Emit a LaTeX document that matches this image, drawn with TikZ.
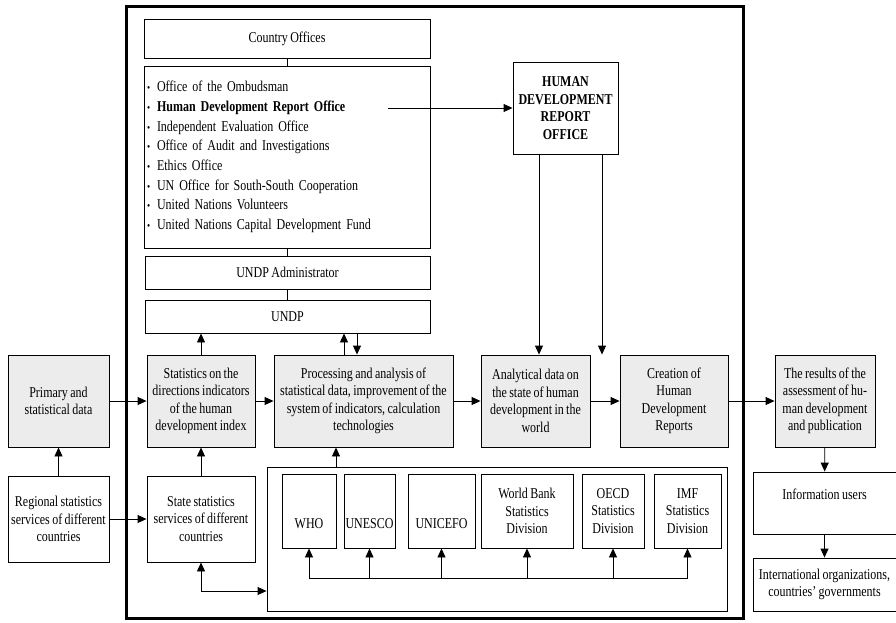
\documentclass[tikz,border=0pt]{standalone}
\usepackage{fontspec}
\setmainfont{Liberation Serif}[FakeStretch=0.8, WordSpace=0.8]
\usetikzlibrary{arrows.meta}

\newcommand{\itm}{\makebox[10pt][l]{\fontsize{11}{11}\selectfont\textbullet}}

\begin{document}
\begin{tikzpicture}[x=1pt, y=1pt, node distance=150pt, font=\fontsize{15}{17.5}\selectfont]
		\tikzstyle{box} = [rectangle, draw=black, line width=0.9pt, align=center, inner sep=1pt]
		
		\tikzstyle{graybox} = [box, fill=gray!15, minimum height=92pt]
		
		\tikzstyle{orgbox} = [box, minimum height=74pt]
		
		\tikzstyle{arrow} = [->, >={Triangle[length=9pt, width=8pt]}, line width=0.9pt]
		\tikzstyle{line} = [line width=0.9pt]
		
		\useasboundingbox (0,0) rectangle (896,-622);
		
		% UNDP frame
		\draw[line width=3pt] (126.5,-6.5) rectangle (743.5,-618.5);
		
		% Top column
		\node (country) [box, minimum width=286pt, minimum height=39pt] at (287,-38.5) {Country Offices};
		\node (list) [box, minimum width=286pt, minimum height=182pt, text width=280pt, align=left, font=\fontsize{15}{19.7}\selectfont] at (287,-157) {\itm Office of the Ombudsman\\ \itm \textbf{Human Development Report Office}\\ \itm Independent Evaluation Office\\ \itm Office of Audit and Investigations\\ \itm Ethics Office\\ \itm UN Office for South-South Cooperation\\ \itm United Nations Volunteers\\ \itm United Nations Capital Development Fund};
		\node (admin) [box, minimum width=285pt, minimum height=33pt] at (287.5,-272.5) {UNDP Administrator};
		\node (undp) [box, minimum width=285pt, minimum height=33pt] at (287.5,-316.5) {UNDP};
		\node (hdro) [box, minimum width=105pt, minimum height=92pt, font=\fontsize{15}{17.5}\selectfont\bfseries] at (565.5,-108) {HUMAN\\DEVELOPMENT\\REPORT\\OFFICE};
		
		% Main row
		\node (stats) [graybox, minimum width=108pt] at (201,-401) {Statistics on the\\directions indicators\\of the human\\development index};
		\node (proc) [graybox, minimum width=179pt, right of=stats, xshift=12.5pt] {Processing and analysis of\\statistical data, improvement of the\\system of indicators, calculation\\technologies};
		\node (anal) [graybox, minimum width=109pt, right of=proc, xshift=22pt] {Analytical data on\\the state of human\\development in the\\world};
		\node (create) [graybox, minimum width=108pt, right of=anal, xshift=-11.5pt] {Creation of\\Human\\Development\\Reports};
		\node (results) [graybox, minimum width=100pt, right of=create, xshift=1pt] {The results of the\\assessment of hu-\\man development\\and publication};
		\node (primary) [graybox, minimum width=101pt, left of=stats, xshift=7.5pt] {Primary and\\statistical data};
		
		% Sources
		\node (state) [box, minimum width=108pt, minimum height=86pt, below of=stats, yshift=32pt] {State statistics\\services of different\\countries};
		\node (regional) [box, minimum width=101pt, minimum height=86pt, left of=state, xshift=7.5pt] {Regional statistics\\services of different\\countries};
		
		% International organizations
		\node (orgs) [box, minimum width=460pt, minimum height=144pt] at (497,-539) {};
		\node (who) [orgbox, minimum width=54pt] at (309,-511) {~\\~\\WHO};
		\node (unesco) [orgbox, minimum width=51pt] at (369.5,-511) {~\\~\\UNESCO};
		\node (unicef) [orgbox, minimum width=67pt] at (441.5,-511) {~\\~\\UNICEFO};
		\node (wb) [orgbox, minimum width=92pt] at (527,-511) {World Bank\\Statistics\\Division};
		\node (oecd) [orgbox, minimum width=62pt] at (613,-511) {OECD\\Statistics\\Division};
		\node (imf) [orgbox, minimum width=67pt] at (687.5,-511) {IMF\\Statistics\\Division};
		
		% Users
		\node (info) [box, minimum width=143pt, minimum height=62pt, below of=results, xshift=-0.5pt, yshift=48pt] {Information users\\~};
		\node (intl) [box, minimum width=143pt, minimum height=53pt] at (824.5,-584.5) {International organizations,\\countries’ governments};
		
		% Lines
		\draw[line] (country.south) -- (list.north);
		\draw[line] (list.south) -- (list.south |- admin.north);
		\draw[line] (admin.south) -- (undp.north);
		
		% Arrows
		\coordinate (hdrtext) at (388,-108);
		\draw [arrow] (hdrtext) -- (hdro.west);
		\draw [arrow] ([xshift=-26.5pt]hdro.south) -- ([xshift=-26.5pt]hdro.south |- anal.north);
		\draw [arrow] ([xshift=36.5pt]hdro.south) -- ([xshift=36.5pt]hdro.south |- create.north);
		
		\draw [arrow] (primary) -- (stats);
		\draw [arrow] (stats) -- (proc);
		\draw [arrow] (proc) -- (anal);
		\draw [arrow] (anal) -- (create);
		\draw [arrow] (create) -- (results);
		
		\draw [arrow] (stats.north) -- (stats.north |- undp.south);
		\draw [arrow] ([xshift=-19.5pt]proc.north) -- ([xshift=-19.5pt]proc.north |- undp.south);
		\draw [arrow] ([xshift=-6.5pt]proc.north |- undp.south) -- ([xshift=-6.5pt]proc.north);
		
		\draw [arrow] (regional) -- (primary);
		\draw [arrow] (regional) -- (state);
		\draw [arrow] (state) -- (stats);
		\draw [arrow, <->] (state.south) |- ([yshift=-52pt]orgs.west);
		\draw [arrow] ([xshift=-161pt]orgs.north) -- ([xshift=-161pt]orgs.north |- proc.south);
		
		\coordinate (busL) at (309,-578);
		\coordinate (busR) at (687.5,-578);
		\draw[line] (busL) -- (busR);
		\foreach \org in {who, unesco, unicef, wb, oecd, imf}
			\draw [arrow] (\org.south |- busL) -- (\org.south);
		
		\draw [arrow] (results) -- (info);
		\draw [arrow] (info) -- (intl);
		
		\end{tikzpicture}
\end{document}
